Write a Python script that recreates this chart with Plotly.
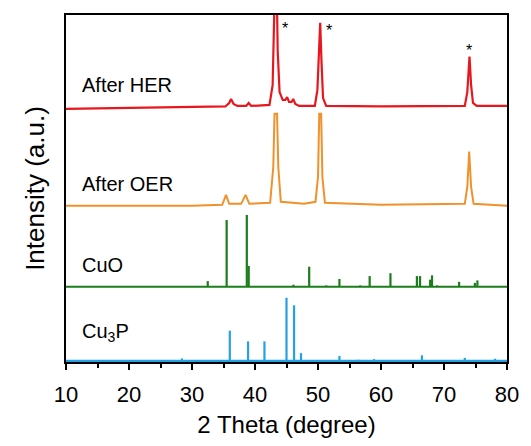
import plotly.graph_objects as go

# ---------------- data ----------------
her_x = [10, 20, 30, 35.3, 35.9, 36.2, 36.6, 37.2, 38.6, 39.0, 39.4, 42.3, 42.8, 43.0, 43.15, 43.45, 43.6, 43.9,
         44.4, 44.8, 45.1, 45.4, 45.8, 46.06, 46.4, 47.0, 49.5, 49.9, 50.15, 50.35, 50.55, 50.8, 51.3, 60,
         73.3, 73.7, 74.05, 74.3, 74.6, 75.2, 80]
her_y = [1, 2, 3, 3.5, 7, 11, 6, 4, 4, 7, 4, 5, 25, 80, 125, 125, 60, 18,
         10, 10, 13, 8, 8, 11, 6, 4, 4, 20, 60, 88, 50, 12, 4, 3.5,
         4, 18, 54, 25, 7, 4, 4]

oer_x = [10, 30, 34.8, 35.4, 35.9, 37.8, 38.5, 39.1, 42.4, 42.9, 43.1, 43.5, 43.7, 44.1, 47.8, 48.6, 49.6,
         50.0, 50.2, 50.5, 50.7, 51.1, 60, 73.3, 73.7, 74.0, 74.3, 74.7, 80]
oer_y = [1, 1, 2, 12, 3, 3, 12, 3, 4, 40, 94, 94, 40, 5, 3, 4, 5,
         30, 94, 94, 30, 4, 2, 3, 20, 56, 20, 3, 1]

# Reference patterns (relative intensity, %)
cuo_x = [32.5, 35.5, 38.7, 39.0, 46.1, 48.6, 51.3, 53.4, 56.7, 58.2, 61.5, 65.7, 66.2, 67.8, 68.1, 68.9,
         72.4, 74.9, 75.3]
cuo_i = [8, 93, 100, 29, 3, 28, 2, 11, 2, 15, 19, 15, 15, 10, 16, 2, 7, 5.5, 9]

cu3p_x = [28.4, 36.0, 38.9, 41.5, 45.0, 46.2, 47.3, 53.4, 56.4, 58.9, 66.5, 73.3, 78.1]
cu3p_i = [4, 48, 31, 31, 100, 88, 12.5, 8, 2, 3, 9, 5, 3.6]

labels = ["After HER", "After OER", "CuO", "Cu<sub>3</sub>P"]
star_x = [44.7, 51.8, 74.0]

x_ticks = [10, 20, 30, 40, 50, 60, 70, 80]

# ---------------- styling / stacking ----------------
OFF_HER, OFF_OER, OFF_CUO, OFF_CU3P = 255, 157, 76, 1
SC_CUO, SC_CU3P = 0.727, 0.64
RED, ORANGE, GREEN, BLUE = "#E9161D", "#F0912C", "#1B7D1B", "#25A0E6"
FONT = "Liberation Sans, Arial, sans-serif"


def sticks(xs, ints, base, scale):
    sx, sy = [], []
    for x, i in zip(xs, ints):
        sx += [x, x, None]
        sy += [base, base + i * scale, None]
    return sx, sy


fig = go.Figure()
fig.add_trace(go.Scatter(x=her_x, y=[v + OFF_HER for v in her_y], mode="lines",
                         line=dict(color=RED, width=2.2)))
fig.add_trace(go.Scatter(x=oer_x, y=[v + OFF_OER for v in oer_y], mode="lines",
                         line=dict(color=ORANGE, width=2)))

sx, sy = sticks(cuo_x, cuo_i, OFF_CUO, SC_CUO)
fig.add_trace(go.Scatter(x=[10, 80], y=[OFF_CUO, OFF_CUO], mode="lines", line=dict(color=GREEN, width=2)))
fig.add_trace(go.Scatter(x=sx, y=sy, mode="lines", line=dict(color=GREEN, width=2.2)))

sx, sy = sticks(cu3p_x, cu3p_i, OFF_CU3P, SC_CU3P)
fig.add_trace(go.Scatter(x=[10, 80], y=[OFF_CU3P, OFF_CU3P], mode="lines", line=dict(color=BLUE, width=2.5)))
fig.add_trace(go.Scatter(x=sx, y=sy, mode="lines", line=dict(color=BLUE, width=2.2)))

label_y = [280, 180, 98, 30]
for t, y in zip(labels, label_y):
    fig.add_annotation(x=12.3, y=y, text=t, showarrow=False, xanchor="left", yanchor="middle",
                       font=dict(family=FONT, size=20, color="black"))

star_y = [337, 335, 315]
for x, y in zip(star_x, star_y):
    fig.add_annotation(x=x, y=y, text="*", showarrow=False, xanchor="center", yanchor="middle",
                       font=dict(family=FONT, size=16, color="black"))

fig.update_layout(
    width=531, height=446,
    margin=dict(l=66, r=19, t=15, b=80),
    paper_bgcolor="white", plot_bgcolor="white",
    showlegend=False,
    font=dict(family=FONT, color="black"),
    xaxis=dict(range=[10, 80], tickvals=x_ticks, ticks="outside", ticklen=6, tickwidth=2,
               tickcolor="black", showline=True, linecolor="black", linewidth=2, mirror=True,
               showgrid=False, zeroline=False, tickfont=dict(size=22, family=FONT),
               ticklabelstandoff=6,
               minor=dict(dtick=5, ticks="outside", ticklen=4, tickwidth=2, tickcolor="black", tick0=15),
               title=dict(text="2 Theta (degree)", font=dict(size=24, family=FONT), standoff=10)),
    yaxis=dict(range=[0, 351], showticklabels=False, ticks="", showline=True, linecolor="black",
               linewidth=2, mirror=True, showgrid=False, zeroline=False,
               title=dict(text="Intensity (a.u.)", font=dict(size=26, family=FONT), standoff=12)),
)

fig.write_html("out.html")
